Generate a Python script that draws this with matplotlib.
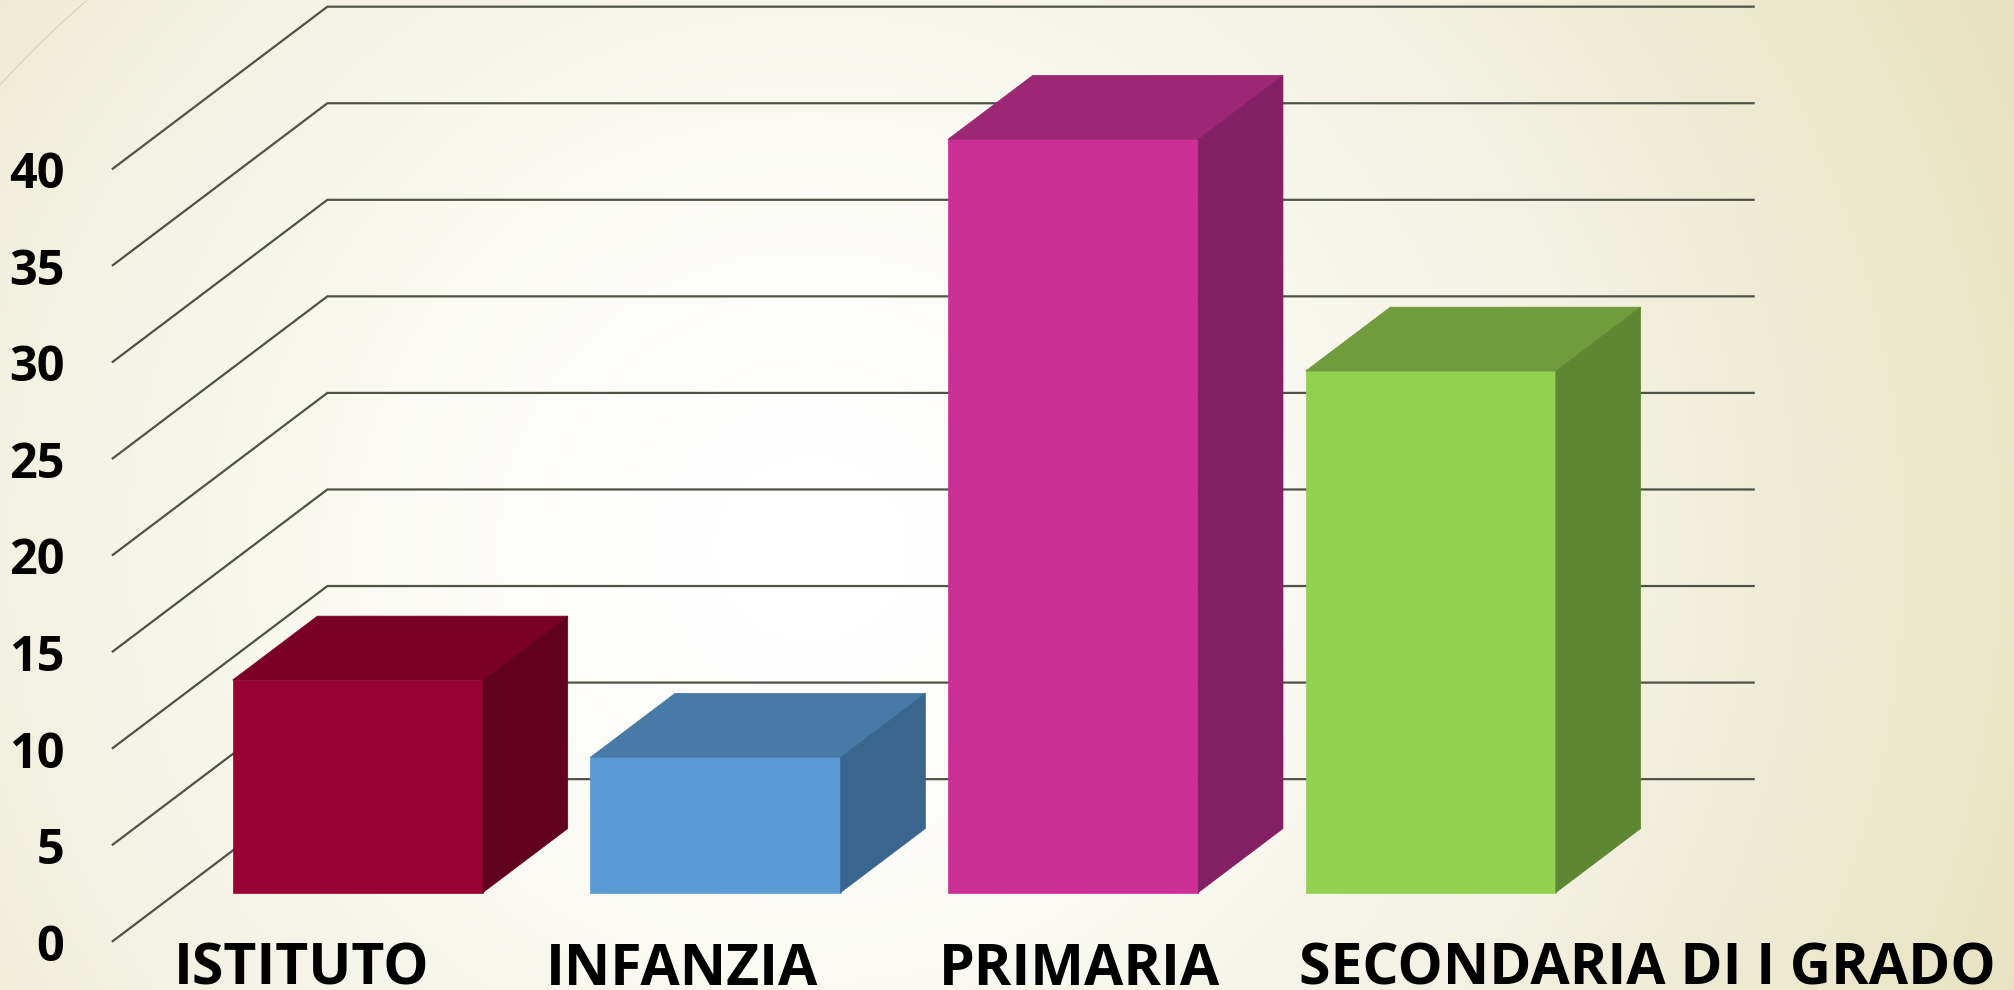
import numpy as np
import matplotlib
matplotlib.use("Agg")
import matplotlib.pyplot as plt
from matplotlib.patches import Polygon

categories = ["ISTITUTO", "INFANZIA", "PRIMARIA", "SECONDARIA DI I GRADO"]
values = [11, 7, 39, 27]
value_ticks = [0, 5, 10, 15, 20, 25, 30, 35, 40]
front_colors = ["#990033", "#5B9BD5", "#CC3096", "#92D050"]
top_colors = ["#7A0028", "#477AA7", "#9B2775", "#709C3D"]
side_colors = ["#620020", "#3A668E", "#842064", "#5F8733"]

W, H = 2015, 990
fig = plt.figure(figsize=(W / 100, H / 100), dpi=100)
ax = fig.add_axes([0, 0, 1, 1])

X_UNIT = 278.3      # shrunk px per category
Y_UNIT = 15.02      # shrunk px per value unit
X_ZERO = 228.3
Y_ZERO = 732.0
DX = 167 / X_UNIT
DY = 126 / Y_UNIT
BAR_W = 0.70
D0, D1 = 0.30, 0.695

xlim = ((0 - X_ZERO) / X_UNIT, (1568 - X_ZERO) / X_UNIT)
ylim = ((Y_ZERO - 770) / Y_UNIT, (Y_ZERO - 0) / Y_UNIT)
ax.axis("off")

# background radial gradient
yy, xx = np.mgrid[0:H:2, 0:W:2]
r = np.hypot(xx - 810, (yy - 440) / 0.95)
t = (np.clip((r - 100) / 1200, 0, 1)[..., None]) ** 1.3
c0 = np.array([1.0, 1.0, 1.0])
c1 = np.array([0xE7, 0xE3, 0xC2]) / 255
img = c0 * (1 - t) + c1 * t
ax.imshow(img, extent=[*xlim, *ylim], origin="lower", aspect="auto", zorder=0)
ax.set_xlim(*xlim)
ax.set_ylim(*ylim)


def proj(x, v, d):
    return x + d * DX, v + d * DY


# decorative arc, top-left corner
th = np.linspace(0, 1, 30)
ax.plot((th * 68 - X_ZERO) / X_UNIT,
        (Y_ZERO - (66 * (1 - th) - 2 * np.sin(np.pi * th))) / Y_UNIT,
        color="#D8D6C4", lw=0.9, zorder=1)

# gridlines on side wall and back wall
xl, xr = -0.505, 3.483
for v in value_ticks:
    p0 = proj(xl, v, 0)
    p1 = proj(xl, v, 1)
    p2 = proj(xr, v, 1)
    ax.plot([p0[0], p1[0], p2[0]], [p0[1], p1[1], p2[1]],
            color="#4F5345", lw=1.6, zorder=2, solid_joinstyle="miter")

# bars
for i, (val, fc, tc, sc) in enumerate(zip(values, front_colors, top_colors, side_colors)):
    a, b = i - BAR_W / 2, i + BAR_W / 2
    front_base = proj(0, 0, D0)
    ax.bar(i + front_base[0], val, width=BAR_W, bottom=front_base[1], color=fc,
           edgecolor=fc, linewidth=0.5, zorder=5 + i)
    top = [proj(a, val, D0), proj(b, val, D0), proj(b, val, D1), proj(a, val, D1)]
    side = [proj(b, 0, D0), proj(b, val, D0), proj(b, val, D1), proj(b, 0, D1)]
    ax.add_patch(Polygon(top, closed=True, facecolor=tc, edgecolor=tc, linewidth=0.5, zorder=5 + i))
    ax.add_patch(Polygon(side, closed=True, facecolor=sc, edgecolor=sc, linewidth=0.5, zorder=5 + i))

font = dict(family="Open Sans", weight="bold", color="black", zorder=20)
# value labels
for v in value_ticks:
    ax.text((50 - X_ZERO) / X_UNIT, v - 5.5 / Y_UNIT, str(v), ha="right", va="center",
            fontsize=35, **font)
# category labels
label_centers = [235, 531, 840, 1282]
for name, cx in zip(categories, label_centers):
    ax.text((cx - X_ZERO) / X_UNIT, (Y_ZERO - 766) / Y_UNIT, name, ha="center", va="baseline",
            fontsize=41, **font)

fig.savefig("out.png", dpi=100)
